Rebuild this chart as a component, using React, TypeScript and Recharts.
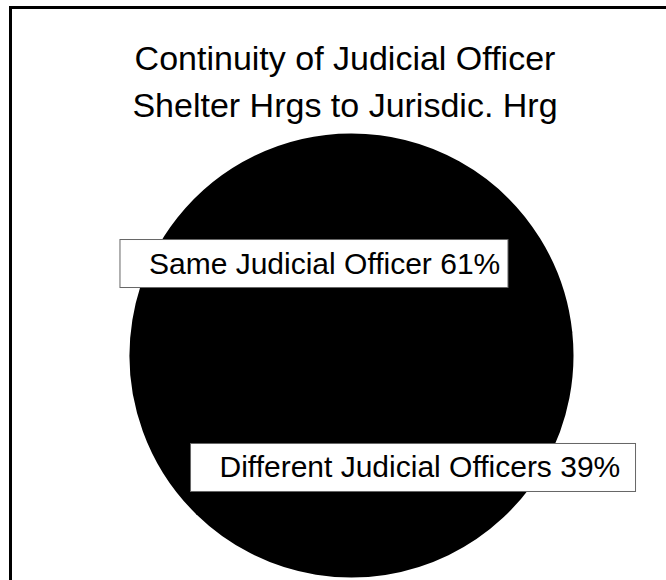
import React from 'react';
import { PieChart, Pie, Cell } from 'recharts';

// chart content
const titleLines = ['Continuity of Judicial Officer', 'Shelter Hrgs to Jurisdic. Hrg'];
const categories = ['Same Judicial Officer', 'Different Judicial Officers'];
const shares = [61, 39];

const FONT = '"Liberation Sans", Arial, Helvetica, sans-serif';
const BOX_W = [388, 445];
const RAD = Math.PI / 180;

const data = categories.map((name, i) => ({ name, value: shares[i] }));

const renderLabel = (props: any) => {
  const { cx, cy, midAngle, outerRadius, index, name, percent } = props;
  const r = outerRadius * 0.513;
  const x = cx + r * Math.cos(-midAngle * RAD) + 12;
  const y = cy + r * Math.sin(-midAngle * RAD) + 10;
  const w = BOX_W[index];
  return (
    <g>
      <rect x={x - w / 2} y={y - 24} width={w} height={48} fill="#fff" stroke="#666" strokeWidth={1} />
      <text x={x - w / 2 + 29} y={y + 10} fontSize={30} fontFamily={FONT} fill="#000">
        {`${name} ${Math.round(percent * 100)}%`}
      </text>
    </g>
  );
};

export default function App() {
  return (
    <div style={{ position: 'absolute', left: 0, top: 0, width: 666, height: 580, overflow: 'hidden', background: '#fff' }}>
      {/* frame, runs off the right and bottom edge */}
      <div style={{ position: 'absolute', left: 9, top: 6, width: 700, height: 620, border: '3px solid #000' }} />
      <svg width={666} height={580} style={{ position: 'absolute', left: 0, top: 0 }}>
        {titleLines.map((t, i) => (
          <text key={t} x={345} y={70 + i * 47} textAnchor="middle" fontSize={34} fontFamily={FONT} fill="#000">
            {t}
          </text>
        ))}
      </svg>
      <div style={{ position: 'absolute', left: 0, top: 0 }}>
        <PieChart width={666} height={580}>
          <Pie
            data={data}
            dataKey="value"
            nameKey="name"
            cx={346.5}
            cy={350.5}
            outerRadius={221}
            startAngle={225.7}
            endAngle={-134.3}
            labelLine={false}
            label={renderLabel}
            isAnimationActive={false}
          >
            {data.map((d) => (
              <Cell key={d.name} fill="#000" stroke="#000" strokeWidth={2} strokeLinejoin="round" />
            ))}
          </Pie>
        </PieChart>
      </div>
    </div>
  );
}
